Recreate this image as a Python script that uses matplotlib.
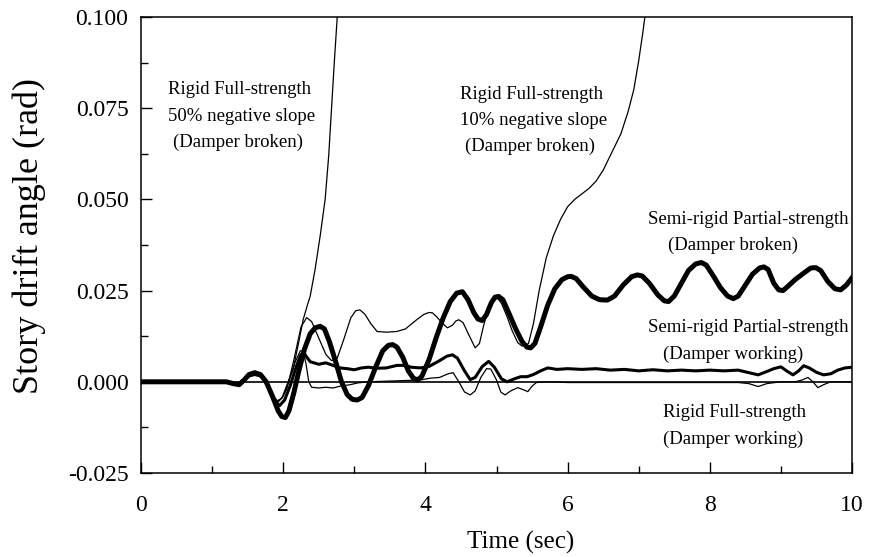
import numpy as np
import matplotlib
matplotlib.use("Agg")
import matplotlib.pyplot as plt
from matplotlib.ticker import MultipleLocator, FormatStrFormatter

plt.rcParams['font.family'] = ['Liberation Serif', 'DejaVu Serif']
plt.rcParams['axes.unicode_minus'] = False

# Semi-rigid Partial-strength (Damper broken) - thick line
t_spb = [0.0, 0.6, 1.0, 1.2, 1.3, 1.38, 1.45, 1.52, 1.6, 1.68, 1.76, 1.85, 1.93, 1.98,
         2.03, 2.08, 2.15, 2.22, 2.3, 2.38, 2.45, 2.52, 2.58, 2.65, 2.73, 2.82, 2.9,
         2.97, 3.04, 3.11, 3.2, 3.3, 3.4, 3.48, 3.54, 3.6, 3.68, 3.76, 3.83, 3.89,
         3.95, 4.05, 4.15, 4.25, 4.35, 4.44, 4.52, 4.6, 4.68, 4.74, 4.8, 4.86, 4.93,
         4.98, 5.03, 5.09, 5.17, 5.27, 5.36, 5.43, 5.48, 5.54, 5.62, 5.72, 5.82, 5.92,
         6.0, 6.05, 6.12, 6.22, 6.34, 6.45, 6.56, 6.66, 6.78, 6.9, 6.98, 7.05, 7.15,
         7.27, 7.36, 7.42, 7.5, 7.6, 7.7, 7.8, 7.88, 7.95, 8.05, 8.15, 8.25, 8.33,
         8.4, 8.5, 8.6, 8.7, 8.76, 8.82, 8.9, 8.97, 9.03, 9.1, 9.2, 9.3, 9.42, 9.49,
         9.56, 9.66, 9.76, 9.84, 9.92, 10.0]
y_spb = [0.0, 0.0, 0.0, 0.0, -0.0005, -0.0008, 0.0005, 0.002, 0.0025, 0.002, 0.0, -0.004,
         -0.008, -0.0095, -0.0098, -0.008, -0.003, 0.003, 0.009, 0.0132, 0.0148, 0.0152,
         0.0145, 0.011, 0.006, 0.0, -0.0035, -0.0048, -0.005, -0.0043, -0.001, 0.004,
         0.0085, 0.0100, 0.0102, 0.0095, 0.0068, 0.003, 0.001, 0.0005, 0.0015, 0.006,
         0.012, 0.0175, 0.022, 0.0243, 0.0247, 0.0225, 0.019, 0.0172, 0.0168, 0.0185,
         0.0218, 0.0232, 0.0234, 0.0225, 0.019, 0.0145, 0.011, 0.0095, 0.0093, 0.0105,
         0.015, 0.021, 0.0255, 0.028, 0.0288, 0.0289, 0.0283, 0.026, 0.0235, 0.0225,
         0.0224, 0.0235, 0.0265, 0.0288, 0.0293, 0.029, 0.027, 0.0238, 0.0222, 0.022,
         0.0235, 0.027, 0.0305, 0.0323, 0.0327, 0.032, 0.029, 0.0258, 0.0235, 0.0228,
         0.0235, 0.0265, 0.0295, 0.0312, 0.0315, 0.0308, 0.027, 0.0252, 0.025, 0.0262,
         0.028, 0.0295, 0.0312, 0.0313, 0.0305, 0.0275, 0.0255, 0.0252, 0.0265, 0.0285]

# Rigid Full-strength 50% negative slope (Damper broken) - thin line
t_r50 = [0.0, 1.0, 1.2, 1.38, 1.5, 1.6, 1.7, 1.78, 1.86, 1.92, 1.98, 2.05, 2.14, 2.22,
         2.28, 2.34, 2.38, 2.45, 2.52, 2.59, 2.64, 2.68, 2.72, 2.76, 2.78]
y_r50 = [0.0, 0.0, 0.0, -0.0005, 0.0015, 0.002, 0.0015, -0.001, -0.004, -0.0052, -0.0045,
         -0.001, 0.0035, 0.011, 0.017, 0.021, 0.0235, 0.031, 0.040, 0.050, 0.062, 0.075,
         0.088, 0.100, 0.105]

# Rigid Full-strength 10% negative slope (Damper broken) - thin line
t_r10 = [0.0, 1.0, 1.2, 1.38, 1.5, 1.6, 1.7, 1.78, 1.86, 1.92, 1.98, 2.05, 2.15, 2.25,
         2.33, 2.4, 2.5, 2.6, 2.68, 2.76, 2.85, 2.95, 3.02, 3.08, 3.15, 3.23, 3.32,
         3.45, 3.6, 3.72, 3.8, 3.89, 3.98, 4.05, 4.1, 4.16, 4.24, 4.31, 4.38, 4.43,
         4.47, 4.53, 4.62, 4.7, 4.76, 4.82, 4.87, 4.94, 5.01, 5.07, 5.15, 5.22, 5.3,
         5.36, 5.41, 5.45, 5.52, 5.6, 5.7, 5.8, 5.9, 6.0, 6.1, 6.2, 6.3, 6.4, 6.5,
         6.6, 6.7, 6.75, 6.85, 6.93, 7.0, 7.06, 7.1, 7.13]
y_r10 = [0.0, 0.0, 0.0, -0.0005, 0.0015, 0.002, 0.0015, -0.001, -0.004, -0.0055, -0.0045,
         -0.002, 0.006, 0.015, 0.0176, 0.0165, 0.012, 0.0075, 0.0058, 0.0065, 0.0115,
         0.0175, 0.0195, 0.0197, 0.0185, 0.016, 0.0138, 0.0136, 0.0138, 0.0145, 0.0158,
         0.0172, 0.0185, 0.019, 0.0189, 0.0178, 0.016, 0.0148, 0.0155, 0.0167, 0.017,
         0.0162, 0.0125, 0.0093, 0.0105, 0.0155, 0.019, 0.0218, 0.023, 0.0215, 0.0178,
         0.014, 0.0107, 0.0098, 0.0100, 0.0105, 0.016, 0.025, 0.034, 0.040, 0.0445,
         0.048, 0.050, 0.0515, 0.053, 0.055, 0.058, 0.062, 0.066, 0.068, 0.074, 0.080,
         0.088, 0.096, 0.102, 0.106]

# Semi-rigid Partial-strength (Damper working) - medium line
t_spw = [0.0, 1.0, 1.2, 1.38, 1.5, 1.6, 1.7, 1.78, 1.87, 1.95, 2.02, 2.1, 2.18, 2.25,
         2.29, 2.33, 2.38, 2.5, 2.6, 2.7, 2.8, 2.9, 3.0, 3.1, 3.2, 3.3, 3.45, 3.6,
         3.7, 3.8, 3.93, 4.05, 4.2, 4.3, 4.38, 4.45, 4.55, 4.63, 4.7, 4.8, 4.89, 4.97,
         5.07, 5.15, 5.25, 5.34, 5.43, 5.52, 5.62, 5.72, 5.85, 6.0, 6.2, 6.4, 6.6, 6.8,
         7.0, 7.2, 7.4, 7.6, 7.8, 8.0, 8.2, 8.4, 8.55, 8.68, 8.8, 8.9, 9.0, 9.08, 9.17,
         9.25, 9.32, 9.4, 9.5, 9.6, 9.7, 9.8, 9.9, 10.0]
y_spw = [0.0, 0.0, 0.0, -0.0006, 0.0015, 0.002, 0.0015, -0.001, -0.005, -0.0065, -0.005,
         -0.001, 0.004, 0.0075, 0.008, 0.0068, 0.0055, 0.0048, 0.0052, 0.0045, 0.0038,
         0.0036, 0.0033, 0.0038, 0.004, 0.0037, 0.0038, 0.0045, 0.0045, 0.004, 0.0038,
         0.0042, 0.0058, 0.007, 0.0074, 0.0065, 0.003, 0.0006, 0.0012, 0.0042, 0.0056,
         0.004, 0.0008, 0.0, 0.0008, 0.0014, 0.0014, 0.002, 0.003, 0.0038, 0.0034, 0.0036,
         0.0034, 0.0036, 0.0032, 0.0034, 0.003, 0.0033, 0.003, 0.0032, 0.003, 0.0032,
         0.003, 0.0032, 0.0025, 0.0019, 0.0028, 0.0036, 0.0041, 0.003, 0.0019, 0.003,
         0.0044, 0.0038, 0.0026, 0.0019, 0.0022, 0.0032, 0.0038, 0.004]

# Rigid Full-strength (Damper working) - thin line
t_rw = [0.0, 1.0, 1.2, 1.38, 1.5, 1.6, 1.7, 1.78, 1.86, 1.93, 2.0, 2.08, 2.16, 2.24,
        2.28, 2.32, 2.36, 2.4, 2.5, 2.6, 2.7, 2.8, 2.94, 3.05, 3.2, 3.5, 3.93, 4.07,
        4.2, 4.32, 4.39, 4.47, 4.55, 4.63, 4.7, 4.78, 4.86, 4.92, 5.0, 5.06, 5.12, 5.2,
        5.3, 5.38, 5.44, 5.5, 5.56, 5.7, 6.0, 7.0, 8.0, 8.4, 8.55, 8.68, 8.8, 9.0, 9.2,
        9.3, 9.38, 9.45, 9.52, 9.6, 9.7, 10.0]
y_rw = [0.0, 0.0, 0.0, -0.0006, 0.0015, 0.002, 0.0015, -0.001, -0.0045, -0.0055, -0.004,
        0.0, 0.005, 0.0085, 0.0085, 0.005, 0.0, -0.0015, -0.0017, -0.0015, -0.0017,
        -0.0012, -0.0008, -0.0003, 0.0, 0.0002, 0.0005, 0.001, 0.0012, 0.0022, 0.0025,
        0.0, -0.0028, -0.0036, -0.0025, 0.0012, 0.0036, 0.0035, 0.0005, -0.0028, -0.0036,
        -0.0025, -0.0016, -0.0022, -0.0027, -0.0012, -0.0002, 0.0, -0.0002, -0.0002,
        -0.0002, -0.0002, -0.0005, -0.0013, -0.0005, 0.0, 0.0, 0.0005, 0.0012, 0.0,
        -0.0016, -0.0008, 0.0, 0.0]

fig = plt.figure(figsize=(8.69, 5.57), dpi=100)
ax = fig.add_axes([141/869, 1-473/557, 711/869, 456/557])

ax.axhline(0, color='black', lw=1.2)
ax.plot(t_rw, y_rw, color='black', lw=0.9)
ax.plot(t_spw, y_spw, color='black', lw=2.2)
ax.plot(t_r50, y_r50, color='black', lw=0.9)
ax.plot(t_r10, y_r10, color='black', lw=0.9)
ax.plot(t_spb, y_spb, color='black', lw=3.6, solid_joinstyle='round')

ax.set_xlim(0, 10)
ax.set_ylim(-0.025, 0.100)
ax.xaxis.set_major_locator(MultipleLocator(2))
ax.xaxis.set_minor_locator(MultipleLocator(1))
ax.yaxis.set_major_locator(MultipleLocator(0.025))
ax.yaxis.set_minor_locator(MultipleLocator(0.0125))
ax.yaxis.set_major_formatter(FormatStrFormatter('%.3f'))
ax.tick_params(which='both', direction='in', width=1.0, labelsize=17)
ax.tick_params(which='major', length=8)
ax.tick_params(which='minor', length=5)
ax.tick_params(axis='x', pad=16)
ax.tick_params(axis='y', pad=9)
for s in ax.spines.values():
    s.set_linewidth(1.1)

ax.set_xlabel('Time (sec)', fontsize=18)
ax.xaxis.set_label_coords(0.534, -0.128)
ax.set_ylabel('Story drift angle (rad)', fontsize=26)
ax.yaxis.set_label_coords(-0.133, 0.52)

fs = 13.5
def px2t(px):
    return (px - 141) / 71.1

def py2y(py):
    return (382 - py) / 3648.0

labels = [
    (168, 90, 'Rigid Full-strength'),
    (168, 117, '50% negative slope'),
    (173, 143, '(Damper broken)'),
    (460, 95, 'Rigid Full-strength'),
    (460, 121, '10% negative slope'),
    (465, 147, '(Damper broken)'),
    (648, 220, 'Semi-rigid Partial-strength'),
    (668, 246, '(Damper broken)'),
    (648, 328, 'Semi-rigid Partial-strength'),
    (663, 355, '(Damper working)'),
    (663, 413, 'Rigid Full-strength'),
    (663, 440, '(Damper working)'),
]
for px, py, txt in labels:
    ax.text(px2t(px), py2y(py), txt, fontsize=fs, ha='left', va='center')

fig.savefig('out.png', dpi=100)
